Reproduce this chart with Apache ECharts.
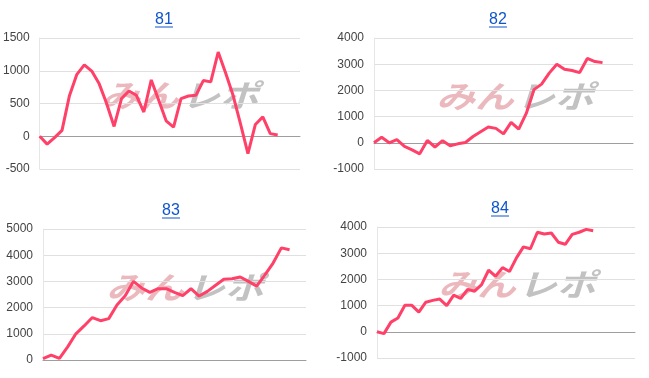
<!DOCTYPE html>
<html>
<head>
<meta charset="utf-8">
<script src="https://cdn.jsdelivr.net/npm/echarts@6/dist/echarts.min.js"></script>
<style>
  html, body { margin: 0; padding: 0; background: #fff; }
  #main { width: 649px; height: 378px; }
</style>
</head>
<body>
<div id="main"></div>
<script>
// day labels (x axis is hidden, one point per day)
var days = ['1','2','3','4','5','6','7','8','9','10','11','12','13','14','15','16','17','18','19',
  '20','21','22','23','24','25','26','27','28','29','30','31','32','33','34','35','36','37','38'];

// 差枚 per machine
var titles = ['81', '82', '83', '84'];
var data81 = [0,-120,-20,90,620,945,1090,995,800,500,150,575,690,625,370,860,550,235,140,575,615,625,850,830,1285,965,625,190,-265,180,295,40,20];
var data82 = [0,210,0,120,-140,-270,-420,90,-160,80,-110,-40,10,240,420,600,550,340,780,520,1130,2030,2240,2660,3000,2810,2760,2680,3220,3100,3060];
var data83 = [50,190,60,500,1000,1300,1620,1500,1580,2100,2450,3000,2750,2580,2720,2720,2580,2460,2720,2440,2620,2850,3080,3100,3170,3000,2820,3250,3700,4280,4210];
var data84 = [0,-70,370,530,1010,1010,750,1130,1200,1250,1000,1400,1270,1620,1550,1800,2350,2120,2450,2300,2820,3240,3170,3800,3730,3770,3420,3340,3720,3800,3910,3860];

var yMin = [-500, -1000, 0, -1000];
var yMax = [1500, 4000, 5000, 4000];
var yStep = [500, 1000, 1000, 1000];
var dayCount = [36, 35, 33, 38];
var seriesData = [data81, data82, data83, data84];

var grids = [
  {left: 37, top: 38, width: 263, height: 131},
  {left: 374, top: 38, width: 259, height: 131},
  {left: 43, top: 229, width: 263, height: 131},
  {left: 377, top: 227, width: 258, height: 131}
];
var titlePos = [[164, 19.5], [498, 19.5], [171, 210.5], [500, 208.5]];
var markPos = [[180, 95], [515, 96], [185, 287], [517, 284]];

var chart = echarts.init(document.getElementById('main'));

var graphics = [];
titles.forEach(function (t, i) {
  var p = titlePos[i];
  graphics.push({
    type: 'text', z: 10,
    style: {text: t, x: p[0], y: p[1], align: 'center', verticalAlign: 'middle',
      font: '16px Arial', fill: '#1155cc'}
  });
  graphics.push({
    type: 'line', z: 10,
    shape: {x1: p[0] - 9, y1: p[1] + 7.5, x2: p[0] + 9, y2: p[1] + 7.5},
    style: {stroke: '#1155cc', lineWidth: 1}
  });
  // watermark
  var m = markPos[i];
  graphics.push({
    type: 'group', x: m[0], y: m[1], scaleX: 1.25, z: -1,
    children: [
      {type: 'text', style: {text: 'みん', x: -1, y: 0, align: 'right', verticalAlign: 'middle',
        font: 'italic bold 31px "Noto Sans CJK JP"', fill: '#ebb8bd'}},
      {type: 'text', style: {text: 'レポ', x: 1, y: 0, align: 'left', verticalAlign: 'middle',
        font: 'italic bold 31px "Noto Sans CJK JP"', fill: '#c2c2c2'}}
    ]
  });
});

var option = {
  animation: false,
  backgroundColor: '#fff',
  graphic: graphics,
  grid: grids,
  xAxis: grids.map(function (g, i) {
    return {
      type: 'category', gridIndex: i, boundaryGap: false,
      data: days.slice(0, dayCount[i]),
      axisLine: {show: true, onZero: true, lineStyle: {color: '#9e9e9e', width: 1}},
      axisTick: {show: false},
      axisLabel: {show: false},
      splitLine: {show: false}
    };
  }),
  yAxis: grids.map(function (g, i) {
    return {
      type: 'value', gridIndex: i,
      min: yMin[i], max: yMax[i], interval: yStep[i],
      axisLine: {show: true, lineStyle: {color: '#e6e6e6'}},
      axisTick: {show: false},
      axisLabel: {color: '#444', fontSize: 12, fontFamily: 'Arial', margin: 10,
        formatter: function (v) { return String(v); }},
      splitLine: {lineStyle: {color: '#e0e0e0'}}
    };
  }),
  series: seriesData.map(function (d, i) {
    return {
      name: titles[i], type: 'line', xAxisIndex: i, yAxisIndex: i,
      data: d, showSymbol: false, symbol: 'none',
      lineStyle: {color: '#ff4068', width: 3},
      z: 5
    };
  })
};

chart.setOption(option);
</script>
</body>
</html>
